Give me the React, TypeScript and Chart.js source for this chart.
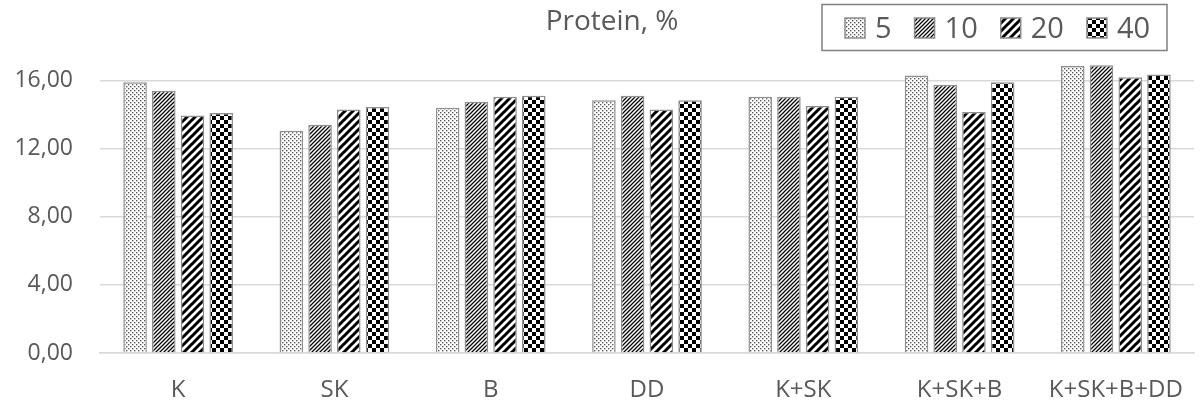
import React, { useEffect, useRef } from "react";
import { Chart, registerables } from "chart.js";

Chart.register(...registerables);

const categories = ["K", "SK", "B", "DD", "K+SK", "K+SK+B", "K+SK+B+DD"];
const seriesLabels = ["5", "10", "20", "40"];
const values5 = [15.9, 13.05, 14.4, 14.85, 15.05, 16.3, 16.85];
const values10 = [15.4, 13.4, 14.75, 15.1, 15.05, 15.75, 16.9];
const values20 = [13.95, 14.3, 15.05, 14.3, 14.5, 14.15, 16.2];
const values40 = [14.1, 14.45, 15.1, 14.85, 15.05, 15.9, 16.35];
const yTicks = [0, 4, 8, 12, 16];
const titleText = "Protein, %";

const FONT = "'Open Sans', 'DejaVu Sans', sans-serif";
const TEXT_COLOR = "#595959";

function makeTile(w: number, h: number, draw: (c: CanvasRenderingContext2D) => void): CanvasPattern {
  const cv = document.createElement("canvas");
  cv.width = w;
  cv.height = h;
  const c = cv.getContext("2d")!;
  c.fillStyle = "#ffffff";
  c.fillRect(0, 0, w, h);
  draw(c);
  return c.createPattern(cv, "repeat")!;
}

function dotsPattern() {
  return makeTile(4, 4, (c) => {
    c.fillStyle = "#5a5a5a";
    c.fillRect(0, 0, 1.4, 1.4);
    c.fillRect(2, 2, 1.4, 1.4);
  });
}

function diagPattern(p: number, lw: number) {
  return makeTile(p, p, (c) => {
    c.strokeStyle = "#000000";
    c.lineWidth = lw;
    c.beginPath();
    c.moveTo(-p, 2 * p);
    c.lineTo(2 * p, -p);
    c.moveTo(-2 * p, 2 * p);
    c.lineTo(p, -p);
    c.moveTo(0, 2 * p);
    c.lineTo(3 * p, -p);
    c.stroke();
  });
}

function checkerPattern(s: number) {
  return makeTile(2 * s, 2 * s, (c) => {
    c.fillStyle = "#000000";
    c.fillRect(0, 0, s, s);
    c.fillRect(s, s, s, s);
  });
}

const titleLegendPlugin = {
  id: "titleLegend",
  afterDraw(chart: any) {
    const ctx: CanvasRenderingContext2D = chart.ctx;
    ctx.save();
    ctx.font = `28px ${FONT}`;
    ctx.fillStyle = TEXT_COLOR;
    ctx.textAlign = "center";
    ctx.textBaseline = "alphabetic";
    ctx.fillText(titleText, 612, 30);

    ctx.font = `29px ${FONT}`;
    ctx.textAlign = "left";
    const box = 20;
    let x = 845;
    const top = 18;
    chart.data.datasets.forEach((ds: any) => {
      ctx.fillStyle = ds.backgroundColor;
      ctx.fillRect(x, top, box, box);
      ctx.strokeStyle = "#8c8c8c";
      ctx.lineWidth = 1.5;
      ctx.strokeRect(x, top, box, box);
      const tx = x + box + 10;
      ctx.fillStyle = TEXT_COLOR;
      ctx.fillText(ds.label, tx, 38);
      const tw = ctx.measureText(ds.label).width;
      x = tx + tw + 23;
    });
    ctx.strokeStyle = "#808080";
    ctx.lineWidth = 1.5;
    ctx.strokeRect(822, 4.5, 1167 - 822, 46);
    ctx.restore();
  },
};

export default function App() {
  const ref = useRef<HTMLCanvasElement | null>(null);

  useEffect(() => {
    if (!ref.current) return;
    const fills = [dotsPattern(), diagPattern(4, 1.25), diagPattern(8, 3), checkerPattern(4)];
    const seriesValues = [values5, values10, values20, values40];
    const chart = new Chart(ref.current, {
      type: "bar",
      data: {
        labels: categories,
        datasets: seriesLabels.map((lbl, i) => ({
          label: lbl,
          data: seriesValues[i],
          backgroundColor: fills[i] as any,
          borderColor: "#8f8f8f",
          borderWidth: 1.5,
          barPercentage: 0.82,
          categoryPercentage: 0.735,
        })),
      },
      options: {
        animation: false,
        responsive: true,
        maintainAspectRatio: false,
        layout: { padding: { left: 0, right: 6, top: 55, bottom: 0 } },
        plugins: {
          legend: { display: false },
          title: { display: false },
          tooltip: { enabled: false },
        },
        scales: {
          x: {
            grid: { display: false },
            border: { display: true, color: "#d9d9d9", width: 1.5 },
            ticks: {
              color: TEXT_COLOR,
              font: { family: FONT, size: 24 },
              padding: 15,
              maxRotation: 0,
              autoSkip: false,
            },
            afterFit: (scale: any) => {
              scale.height = 54;
            },
          },
          y: {
            min: 0,
            max: 17.5,
            grid: { color: "#d9d9d9", lineWidth: 1.5, drawTicks: false },
            border: { display: false },
            ticks: {
              color: TEXT_COLOR,
              font: { family: FONT, size: 23 },
              padding: 27,
              callback: (v: any) => Number(v).toFixed(2).replace(".", ","),
            },
            afterBuildTicks: (scale: any) => {
              scale.ticks = yTicks.map((v) => ({ value: v }));
            },
            afterFit: (scale: any) => {
              scale.width = 100;
            },
          },
        },
      },
      plugins: [titleLegendPlugin],
    });
    return () => chart.destroy();
  }, []);

  return (
    <div style={{ position: "absolute", left: 0, top: 0, width: 1200, height: 407, background: "#fff" }}>
      <canvas ref={ref} />
    </div>
  );
}
